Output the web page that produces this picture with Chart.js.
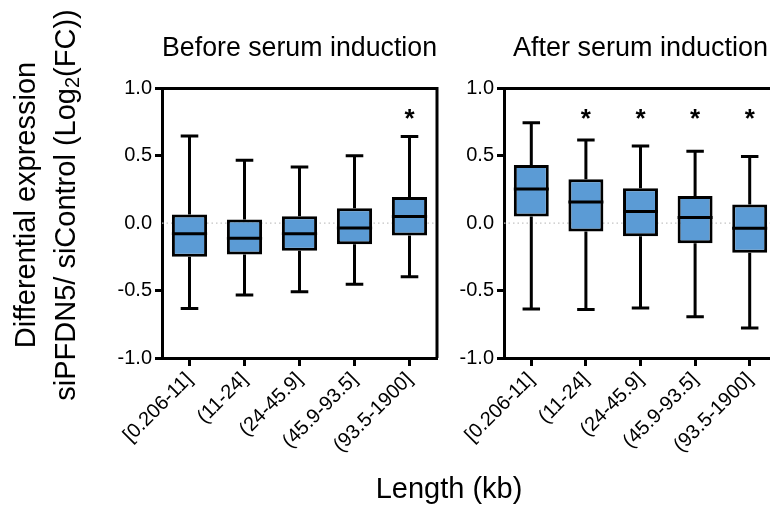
<!DOCTYPE html>
<html>
<head>
<meta charset="utf-8">
<script src="https://cdn.jsdelivr.net/npm/chart.js@4/dist/chart.umd.min.js"></script>
<style>
html,body{margin:0;padding:0;background:#fff;}
body{width:770px;height:512px;overflow:hidden;position:relative;font-family:"Liberation Sans",Arial,sans-serif;color:#000;}
#c1{position:absolute;left:0;top:0;}
#c2{position:absolute;left:450px;top:0;}
.ytitle{position:absolute;width:440px;height:80px;left:-175px;top:165px;transform:rotate(-90deg);text-align:center;font-size:29px;line-height:40px;white-space:nowrap;}
.ytitle sub{font-size:20px;line-height:0;vertical-align:-0.22em;}
.xtitle{position:absolute;left:349px;width:200px;top:471px;text-align:center;font-size:29px;line-height:34px;white-space:nowrap;}
</style>
</head>
<body>
<canvas id="c1" width="450" height="512"></canvas>
<canvas id="c2" width="340" height="512"></canvas>
<div class="ytitle">Differential expression<br>siPFDN5/ siControl (Log<sub>2</sub>(FC))</div>
<div class="xtitle">Length (kb)</div>
<script>
// ---- data ----
const categories = ['[0.206-11]', '(11-24]', '(24-45.9]', '(45.9-93.5]', '(93.5-1900]'];
const yTickValues = [-1.0, -0.5, 0.0, 0.5, 1.0];

const beforeMin    = [-0.632, -0.533, -0.509, -0.452, -0.398];
const beforeQ1     = [-0.249, -0.232, -0.205, -0.156, -0.091];
const beforeMedian = [-0.079, -0.111, -0.079, -0.035,  0.049];
const beforeQ3     = [ 0.064,  0.027,  0.052,  0.111,  0.195];
const beforeMax    = [ 0.647,  0.467,  0.417,  0.501,  0.644];
const beforeStars  = ['', '', '', '', '*'];

const afterMin    = [-0.637, -0.640, -0.630, -0.694, -0.778];
const afterQ1     = [ 0.049, -0.062, -0.096, -0.148, -0.220];
const afterMedian = [ 0.254,  0.158,  0.086,  0.042, -0.037];
const afterQ3     = [ 0.432,  0.326,  0.259,  0.202,  0.138];
const afterMax    = [ 0.746,  0.617,  0.573,  0.533,  0.494];
const afterStars  = ['', '*', '*', '*', '*'];

const starLevel = 0.82;

// ---- drawing ----
const FONT = '"Liberation Sans", Arial, Helvetica, sans-serif';
const BOX_COLOR = '#5B9BD5';

const boxExtras = {
  id: 'boxExtras',
  beforeDatasetsDraw(chart) {
    const {ctx, chartArea, scales: {y}} = chart;
    const y0 = y.getPixelForValue(0);
    ctx.save();
    ctx.strokeStyle = '#c4c4c4';
    ctx.lineWidth = 1.3;
    ctx.setLineDash([1.5, 3]);
    ctx.beginPath();
    ctx.moveTo(chartArea.left, y0);
    ctx.lineTo(chartArea.right, y0);
    ctx.stroke();
    ctx.restore();
  },
  afterDatasetsDraw(chart) {
    const o = chart.options.plugins.boxExtras;
    const {ctx, scales: {x, y}} = chart;
    const meta = chart.getDatasetMeta(0);
    ctx.save();
    ctx.strokeStyle = '#000';
    ctx.lineWidth = 3;
    ctx.lineCap = 'butt';
    o.min.forEach((mn, i) => {
      const cx = x.getPixelForValue(i);
      const w = meta.data[i].width;
      const cap = w * 0.25;
      const pMin = y.getPixelForValue(mn);
      const pQ1 = y.getPixelForValue(o.q1[i]);
      const pMed = y.getPixelForValue(o.median[i]);
      const pQ3 = y.getPixelForValue(o.q3[i]);
      const pMax = y.getPixelForValue(o.max[i]);
      ctx.beginPath();
      ctx.moveTo(cx, pQ3); ctx.lineTo(cx, pMax);
      ctx.moveTo(cx - cap, pMax); ctx.lineTo(cx + cap, pMax);
      ctx.moveTo(cx, pQ1); ctx.lineTo(cx, pMin);
      ctx.moveTo(cx - cap, pMin); ctx.lineTo(cx + cap, pMin);
      ctx.moveTo(cx - w / 2, pMed); ctx.lineTo(cx + w / 2, pMed);
      ctx.stroke();
      if (o.stars[i]) {
        ctx.fillStyle = '#000';
        ctx.font = 'bold 26px ' + FONT;
        ctx.textAlign = 'center';
        ctx.textBaseline = 'alphabetic';
        ctx.fillText(o.stars[i], cx, y.getPixelForValue(starLevel) + 26 * 0.57);
      }
    });
    ctx.restore();
  },
  afterDraw(chart) {
    const {ctx, chartArea} = chart;
    ctx.save();
    ctx.strokeStyle = '#000';
    ctx.lineWidth = 3;
    ctx.beginPath();
    ctx.moveTo(chartArea.left - 1.5, chartArea.top);
    ctx.lineTo(chartArea.right, chartArea.top);
    ctx.lineTo(chartArea.right, chartArea.bottom);
    ctx.stroke();
    ctx.restore();
  }
};

function makeChart(id, title, mins, q1s, meds, q3s, maxs, stars, yAxisWidth) {
  return new Chart(document.getElementById(id), {
    type: 'bar',
    data: {
      labels: categories,
      datasets: [{
        data: q1s.map((q, i) => [q, q3s[i]]),
        backgroundColor: BOX_COLOR,
        borderColor: '#000',
        borderWidth: 3,
        borderSkipped: false,
        barPercentage: 0.64,
        categoryPercentage: 1.0
      }]
    },
    options: {
      responsive: false,
      animation: false,
      layout: {padding: {top: 0, left: 0, right: 13, bottom: 0}},
      plugins: {
        legend: {display: false},
        tooltip: {enabled: false},
        title: {
          display: true, text: title, fullSize: false, color: '#000',
          font: {size: 27, weight: 'normal', family: FONT},
          padding: {top: 32, bottom: 24}
        },
        boxExtras: {min: mins, q1: q1s, median: meds, q3: q3s, max: maxs, stars: stars}
      },
      scales: {
        x: {
          type: 'category',
          offset: true,
          grid: {display: true, offset: false, drawOnChartArea: false, drawTicks: true,
                 tickLength: 8, tickWidth: 3, tickColor: '#000'},
          border: {display: true, color: '#000', width: 3},
          ticks: {color: '#000', font: {size: 20, family: FONT}, minRotation: 45, maxRotation: 45,
                  padding: 2, autoSkip: false},
          afterFit(s) { s.height = 154; }
        },
        y: {
          min: -1, max: 1,
          afterBuildTicks(s) { s.ticks = yTickValues.map(v => ({value: v})); },
          grid: {display: true, drawOnChartArea: false, drawTicks: true, tickLength: 7, tickWidth: 3,
                 tickColor: (c) => (c.tick && c.tick.value === 0) ? 'rgba(0,0,0,0)' : '#000'},
          border: {display: true, color: '#000', width: 3},
          ticks: {color: '#000', font: {size: 20, family: FONT}, padding: 3,
                  callback: (v) => Number(v).toFixed(1)},
          afterFit(s) { s.width = yAxisWidth; }
        }
      }
    },
    plugins: [boxExtras]
  });
}

makeChart('c1', 'Before serum induction', beforeMin, beforeQ1, beforeMedian, beforeQ3, beforeMax, beforeStars, 162);
makeChart('c2', 'After serum induction', afterMin, afterQ1, afterMedian, afterQ3, afterMax, afterStars, 54);
</script>
</body>
</html>
